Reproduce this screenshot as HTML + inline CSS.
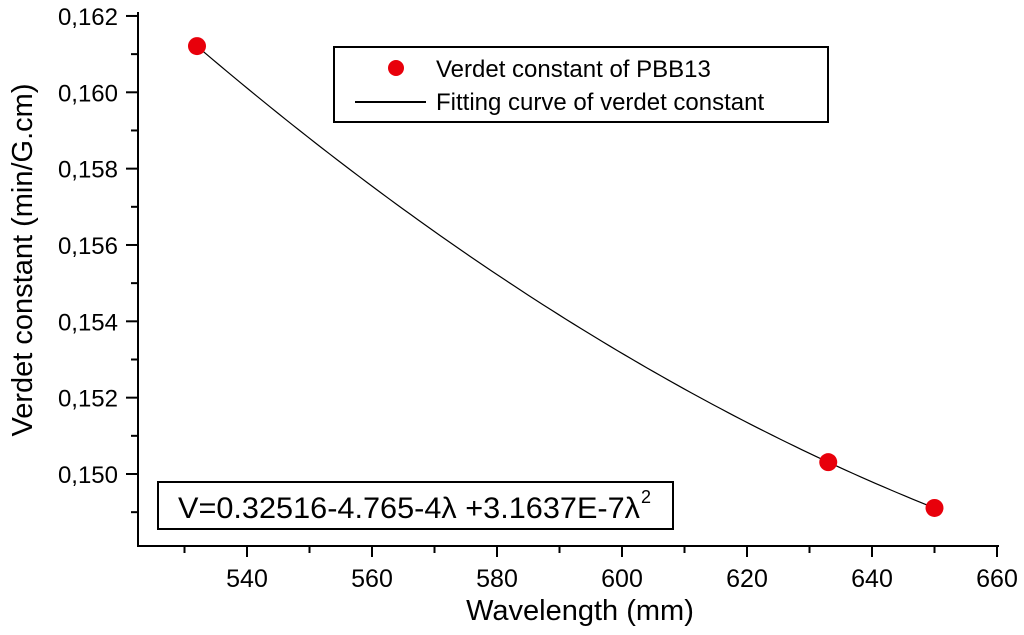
<!DOCTYPE html>
<html><head><meta charset="utf-8"><style>
body{margin:0;background:#fff;}
svg text{font-family:"Liberation Sans",Arial,sans-serif;fill:#000;}
</style></head><body>
<svg id="chart" width="1024" height="630" xmlns="http://www.w3.org/2000/svg">
<g id="axes"></g>
<g id="plot"></g>
<g>
<rect x="334" y="47" width="494" height="75" fill="#fff" stroke="#000" stroke-width="2"/>
<circle cx="396" cy="68" r="8" fill="#e8000b"/>
<text x="436" y="77" font-size="24">Verdet constant of PBB13</text>
<line x1="355" y1="102" x2="426" y2="102" stroke="#000" stroke-width="2"/>
<text x="436" y="110" font-size="24">Fitting curve of verdet constant</text>
</g>
<g>
<rect x="158" y="482" width="515" height="47" fill="#fff" stroke="#000" stroke-width="2"/>
<text x="178" y="518" font-size="30" textLength="462" lengthAdjust="spacingAndGlyphs">V=0.32516-4.765-4λ +3.1637E-7λ</text>
<text x="641" y="503" font-size="18">2</text>
</g>
<text x="580" y="620" font-size="29" text-anchor="middle">Wavelength (mm)</text>
<text transform="translate(32,260) rotate(-90)" font-size="29" text-anchor="middle">Verdet constant (min/G.cm)</text>
</svg>
<script>
const wavelengths=[532,633,650];
const verdet=[0.16121,0.15031,0.14911];
const xTicks=[540,560,580,600,620,640,660];
const yTicks=[0.150,0.152,0.154,0.156,0.158,0.160,0.162];
const yTickLabels=["0,150","0,152","0,154","0,156","0,158","0,160","0,162"];
const NS="http://www.w3.org/2000/svg";
const X0=138,Y0=546;
function xs(v){return 247+(v-540)*6.25;}
function ys(v){return 474-(v-0.150)*38170;}
function mk(tag,attrs,parent){const e=document.createElementNS(NS,tag);for(const k in attrs)e.setAttribute(k,attrs[k]);parent.appendChild(e);return e;}
const axes=document.getElementById('axes'),plot=document.getElementById('plot');
let l=mk('line',{x1:X0,y1:12,x2:X0,y2:Y0+1,stroke:'#000','stroke-width':2},axes);


l=mk('line',{x1:X0-1,y1:Y0,x2:999,y2:Y0,stroke:'#000','stroke-width':2},axes);


xTicks.forEach((t,i)=>{
 const x=xs(t);
 const tk=mk('line',{x1:x,y1:Y0,x2:x,y2:Y0+11,stroke:'#000','stroke-width':2},axes);
 
 
 const m=mk('line',{x1:xs(t-10),y1:Y0,x2:xs(t-10),y2:Y0+7,stroke:'#000','stroke-width':2},axes);
 
 
 const tx=mk('text',{x:x,y:587,'font-size':25,'text-anchor':'middle'},axes);
 tx.textContent=t;
 
 
});
yTicks.forEach((t,i)=>{
 const y=ys(t);
 const tk=mk('line',{x1:X0-12,y1:y,x2:X0,y2:y,stroke:'#000','stroke-width':2},axes);
 
 
 const m=mk('line',{x1:X0-7,y1:ys(t-0.001),x2:X0,y2:ys(t-0.001),stroke:'#000','stroke-width':2},axes);
 
 
 const tx=mk('text',{x:118,y:y+9,'font-size':24,'text-anchor':'end'},axes);
 tx.textContent=yTickLabels[i];
 
 
});
const [x1,x2,x3]=wavelengths,[y1,y2,y3]=verdet;
function q(x){return y1*(x-x2)*(x-x3)/((x1-x2)*(x1-x3))+y2*(x-x1)*(x-x3)/((x2-x1)*(x2-x3))+y3*(x-x1)*(x-x2)/((x3-x1)*(x3-x2));}
let d='';
for(let i=0;i<=100;i++){const x=x1+(x3-x1)*i/100;d+=(i?'L':'M')+xs(x).toFixed(2)+','+ys(q(x)).toFixed(2);}
const c=mk('path',{d:d,fill:'none',stroke:'#000','stroke-width':1.2},plot);


wavelengths.forEach((w,i)=>{
 const p=mk('circle',{cx:xs(w),cy:ys(verdet[i]),r:9,fill:'#e8000b'},plot);
 
 
});
</script>
</body></html>
